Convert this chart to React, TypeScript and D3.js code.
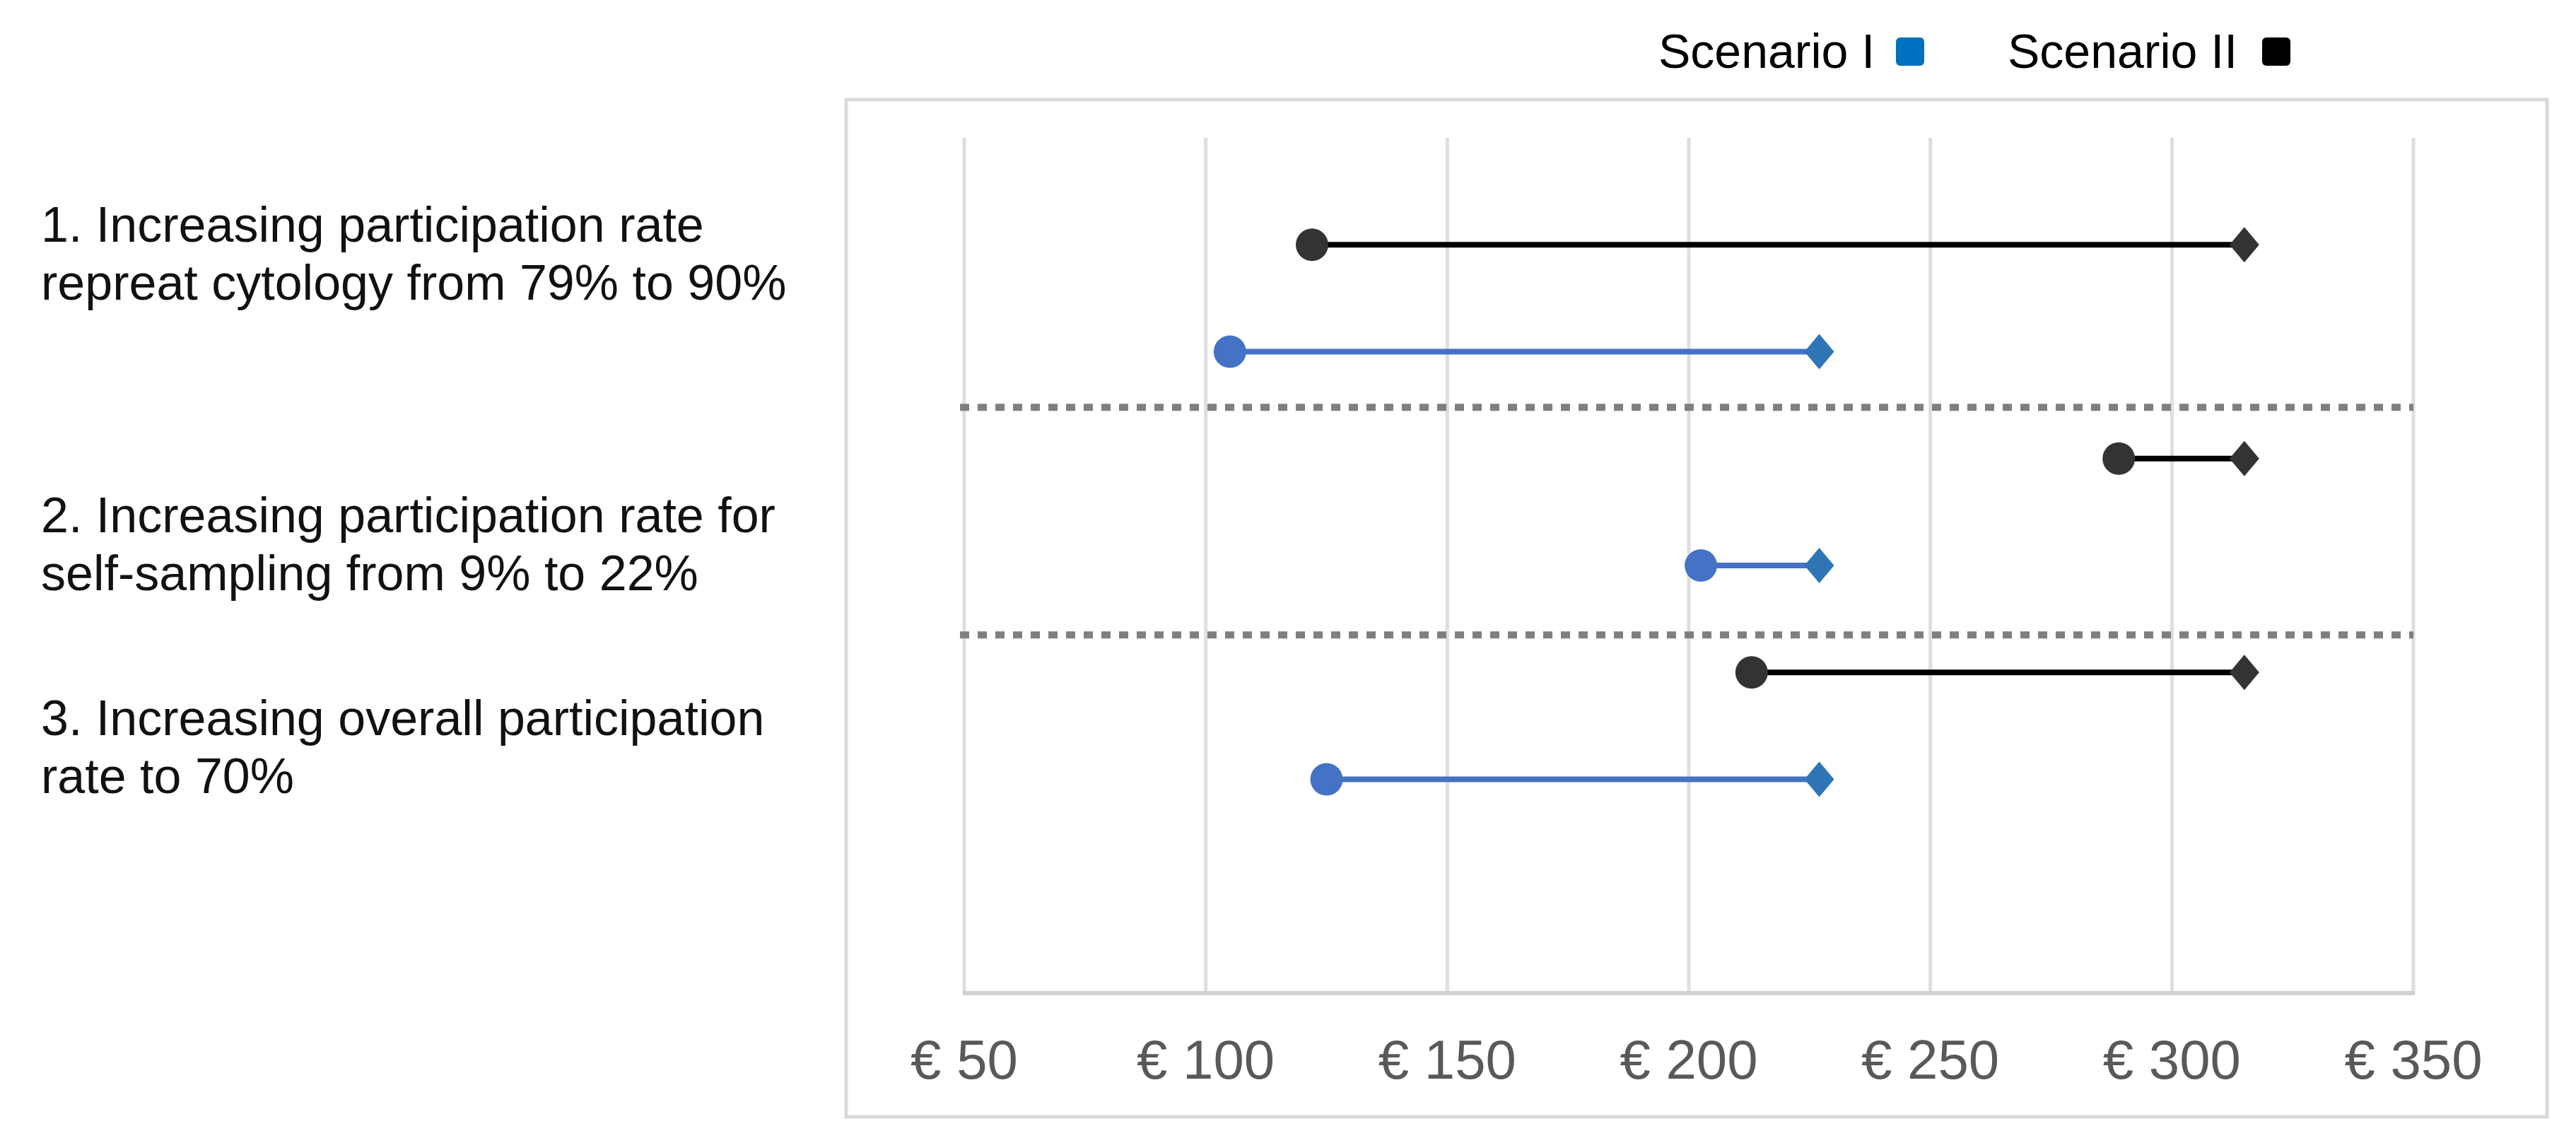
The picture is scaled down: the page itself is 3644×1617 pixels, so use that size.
import React from "react";
import * as d3 from "d3";

// ---------- data ----------
const categories: string[][] = [
  ["1. Increasing participation rate", "repreat cytology from 79% to 90%"],
  ["2. Increasing participation rate for", "self-sampling from 9% to 22%"],
  ["3. Increasing overall participation", "rate to 70%"],
];
const seriesNames = ["Scenario I", "Scenario II"];
// Scenario I (blue): base (diamond) and after change (circle)
const scenarioIBase = [227, 227, 227];
const scenarioIChange = [105, 202.5, 125];
// Scenario II (black)
const scenarioIIBase = [315, 315, 315];
const scenarioIIChange = [122, 289, 213];
// row positions on the vertical value axis
const scenarioIRows = [2, 4, 6];
const scenarioIIRows = [1, 3, 5];
const separatorRows = [2.52, 4.65];
const xTicks = [50, 100, 150, 200, 250, 300, 350];

// ---------- layout ----------
const W = 3644;
const H = 1617;
const plot = { left: 1364, right: 3414, top: 195, bottom: 1405 };
const labelBaselines = [342, 753, 1040];
const labelLineHeight = 82;
const FONT = "'Liberation Sans', Arial, sans-serif";

const BLUE_LINE = "#4472c4";
const BLUE_DIAMOND = "#2e75b6";
const DARK_MARK = "#333333";

function diamondPath(hw: number, hh: number) {
  const p = d3.path();
  p.moveTo(0, -hh);
  p.lineTo(hw, 0);
  p.lineTo(0, hh);
  p.lineTo(-hw, 0);
  p.closePath();
  return p.toString();
}

export default function App() {
  const x = d3.scaleLinear().domain([50, 350]).range([plot.left, plot.right]);
  const y = d3.scaleLinear().domain([0, 8]).range([plot.top, plot.bottom]);
  const diamond = diamondPath(21, 25);
  const r = 23;

  const series = [
    { name: seriesNames[1], base: scenarioIIBase, change: scenarioIIChange, rows: scenarioIIRows, line: "#000000", circle: DARK_MARK, dia: DARK_MARK },
    { name: seriesNames[0], base: scenarioIBase, change: scenarioIChange, rows: scenarioIRows, line: BLUE_LINE, circle: BLUE_LINE, dia: BLUE_DIAMOND },
  ];

  return (
    <svg width={W} height={H} style={{ position: "absolute", left: 0, top: 0, background: "#fff" }} fontFamily={FONT}>
      <rect x={0} y={0} width={W} height={H} fill="#fff" />
      {/* outer box */}
      <rect x={1197} y={141} width={2406} height={1439} fill="none" stroke="#d9d9d9" strokeWidth={5} />

      {/* gridlines */}
      {xTicks.map((t) => (
        <line key={t} x1={x(t)} x2={x(t)} y1={plot.top} y2={plot.bottom} stroke="#dedede" strokeWidth={5} />
      ))}
      {/* axis line */}
      <line x1={plot.left - 2} x2={plot.right + 2} y1={plot.bottom} y2={plot.bottom} stroke="#d0d0d0" strokeWidth={6} />

      {/* tick labels */}
      {xTicks.map((t) => (
        <text key={"t" + t} x={x(t)} y={1526} textAnchor="middle" fontSize={78} fill="#595959">
          {"€ " + t}
        </text>
      ))}

      {/* separators */}
      {separatorRows.map((s, i) => (
        <line key={"s" + i} x1={plot.left - 6} x2={plot.right} y1={y(s)} y2={y(s)} stroke="#7f7f7f" strokeWidth={10} strokeDasharray="13 12" />
      ))}

      {/* dumbbells */}
      {series.map((s) =>
        s.rows.map((row, i) => (
          <g key={s.name + i}>
            <line x1={x(s.change[i])} x2={x(s.base[i])} y1={y(row)} y2={y(row)} stroke={s.line} strokeWidth={8} />
            <circle cx={x(s.change[i])} cy={y(row)} r={r} fill={s.circle} />
            <path d={diamond} transform={`translate(${x(s.base[i])},${y(row)})`} fill={s.dia} />
          </g>
        ))
      )}

      {/* category labels */}
      {categories.map((lines, i) => (
        <text key={"c" + i} x={58} y={labelBaselines[i]} fontSize={70} fill="#111">
          {lines.map((l, j) => (
            <tspan key={j} x={58} dy={j === 0 ? 0 : labelLineHeight}>
              {l}
            </tspan>
          ))}
        </text>
      ))}

      {/* legend */}
      <text x={2346} y={96} fontSize={68} fill="#000">{seriesNames[0]}</text>
      <rect x={2682} y={53} width={40} height={40} rx={6} fill="#0070c0" />
      <text x={2840} y={96} fontSize={68} fill="#000">{seriesNames[1]}</text>
      <rect x={3200} y={53} width={40} height={40} rx={6} fill="#000" />
    </svg>
  );
}
